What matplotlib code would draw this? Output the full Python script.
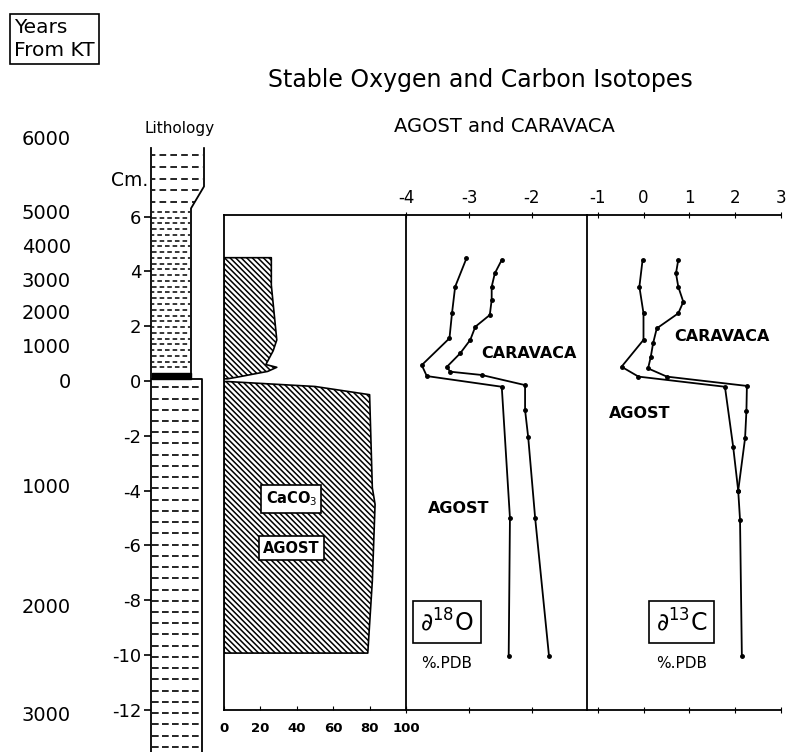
import numpy as np
import matplotlib
matplotlib.use('Agg')
import matplotlib.pyplot as plt

# years from KT boundary, placed against the depth scale (cm)
years_depth = [8.9, 6.2, 4.93, 3.72, 2.52, 1.31, 0.0, -3.83, -8.2, -12.15]
years_label = ['6000', '5000', '4000', '3000', '2000', '1000', '0', '1000', '2000', '3000']

depth_ticks = [-12, -10, -8, -6, -4, -2, 0, 2, 4, 6]

# CaCO3 (%) for AGOST, above and below the boundary clay
caco3_up_depth = [4.5, 3.5, 1.5, 1.1, 0.6, 0.5, 0.35, 0.15, 0.08]
caco3_up_pct = [26, 26, 29, 27, 23, 29, 24, 8, 2]
caco3_low_depth = [-0.02, -0.2, -0.5, -3.9, -4.5, -7.3, -9.93]
caco3_low_pct = [2, 50, 80, 81.5, 83, 81.5, 79]

# delta 18O (per mil PDB)
o18_agost_depth = [4.48, 3.44, 2.47, 1.56, 0.58, 0.18, -0.21, -5.0, -10.04]
o18_agost = [-3.04, -3.22, -3.27, -3.31, -3.75, -3.67, -2.48, -2.35, -2.37]
o18_carav_depth = [4.42, 3.93, 3.44, 2.96, 2.41, 1.98, 1.50, 1.01, 0.52, 0.34, 0.22,
                   -0.15, -1.06, -2.06, -5.0, -10.04]
o18_carav = [-2.48, -2.59, -2.64, -2.64, -2.67, -2.90, -2.98, -3.14, -3.35, -3.30, -2.80,
             -2.11, -2.11, -2.06, -1.95, -1.73]

# delta 13C (per mil PDB)
c13_agost_depth = [4.42, 3.44, 2.47, 1.50, 0.52, 0.16, -0.21, -2.40, -4.0, -5.07, -10.04]
c13_agost = [-0.02, -0.09, 0.0, 0.0, -0.48, -0.11, 1.78, 1.96, 2.07, 2.11, 2.15]
c13_carav_depth = [4.42, 3.93, 3.44, 2.89, 2.47, 1.92, 1.38, 0.89, 0.46, 0.16, -0.18,
                   -1.08, -2.09, -4.0]
c13_carav = [0.76, 0.71, 0.76, 0.87, 0.76, 0.29, 0.21, 0.16, 0.10, 0.51, 2.26,
             2.25, 2.22, 2.07]

W, H = 791, 752
Y0, S = 381.0, 27.4   # pixel row of depth 0, pixels per cm

plt.rcParams['font.family'] = 'DejaVu Sans'
plt.rcParams['hatch.linewidth'] = 1.1
fig = plt.figure(figsize=(W / 100, H / 100), dpi=100)
fig.patch.set_facecolor('white')


def px_axes(x0, x1, ytop, ybot):
    ax = fig.add_axes([x0 / W, 1 - ybot / H, (x1 - x0) / W, (ybot - ytop) / H])
    ax.set_ylim((Y0 - ybot) / S, (Y0 - ytop) / S)
    ax.patch.set_alpha(0)
    return ax


def clean(ax):
    for s in ax.spines.values():
        s.set_visible(False)
    ax.set_xticks([])
    ax.set_yticks([])


# ---- years column
ax_y = px_axes(71, 72, 100, 752)
clean(ax_y)
ax_y.set_yticks(years_depth)
ax_y.set_yticklabels(years_label)
ax_y.tick_params(axis='y', length=0, pad=0, labelsize=14)

# ---- lithology column
ax_l = px_axes(151, 215, 100, 752)
clean(ax_l)
ax_l.set_xlim(151, 215)
ax_l.spines['left'].set_visible(True)
ax_l.spines['left'].set_bounds(-13.6, 8.5)
ax_l.spines['left'].set_linewidth(1.3)
ax_l.set_yticks(depth_ticks)
ax_l.set_yticklabels([str(t) for t in depth_ticks])
ax_l.tick_params(axis='y', direction='out', length=5, width=1.2, pad=2, labelsize=13)

lk = dict(color='black', lw=1.3)
ax_l.plot([151, 202, 202], [0.07, 0.07, -13.6], **lk)
ax_l.plot([191, 191, 204, 204], [0.07, 6.3, 7.1, 8.5], **lk)
ax_l.fill_between([152, 191], 0.07, 0.3, color='black')
for d in np.arange(-13.35, 0, 0.41):
    ax_l.hlines(d, 152, 201, colors='black', lw=1.2, linestyles=(0, (4, 2)))
for i, d in enumerate(np.arange(0.5, 6.3, 0.21)):
    ax_l.hlines(d, 152, 190, colors='black', lw=1.1, linestyles=(1.5 * (i % 2), (3, 2)))
for d in np.arange(6.55, 8.5, 0.42):
    ax_l.hlines(d, 152, np.interp(d, [6.3, 7.1], [191, 203]), colors='black', lw=1.2,
                linestyles=(2, (4, 2.5)))

# ---- CaCO3 panel
ax_ca = px_axes(224, 406, 215, 710)
ax_ca.set_xlim(0, 100)
ax_ca.fill_betweenx(caco3_up_depth, 0, caco3_up_pct, facecolor='white', edgecolor='black',
                    hatch='\\' * 6, lw=1.2)
ax_ca.fill_betweenx(caco3_low_depth, 0, caco3_low_pct, facecolor='white', edgecolor='black',
                    hatch='\\' * 6, lw=1.2)
ax_ca.spines['right'].set_visible(False)
ax_ca.set_yticks([])
ax_ca.set_xticks([0, 20, 40, 60, 80, 100])
ax_ca.tick_params(axis='x', direction='in', length=3, pad=9, labelsize=9.5)
for lab in ax_ca.get_xticklabels():
    lab.set_fontweight('bold')
box = dict(boxstyle='square,pad=0.3', fc='white', ec='black', lw=1.2)
ax_ca.text(37, -4.3, 'CaCO$_3$', ha='center', va='center', fontsize=10.5, fontweight='bold', bbox=box)
ax_ca.text(37, -6.1, 'AGOST', ha='center', va='center', fontsize=10.5, fontweight='bold', bbox=box)

# ---- isotope panels
ax_o = px_axes(406, 587, 215, 710)
ax_o.set_xlim(-4, -4 + 181 / 63)
ax_c = px_axes(587, 781, 215, 710)
ax_c.set_xlim((587 - 643.5) / 45.75, (781 - 643.5) / 45.75)

ln = dict(color='black', lw=1.3, marker='o', ms=2.5)
ax_o.plot(o18_agost, o18_agost_depth, **ln)
ax_o.plot(o18_carav, o18_carav_depth, **ln)
ax_c.plot(c13_agost, c13_agost_depth, **ln)
ax_c.plot(c13_carav, c13_carav_depth, **ln)

for ax, ticks in ((ax_o, [-4, -3, -2]), (ax_c, [-1, 0, 1, 2, 3])):
    ax.spines['right'].set_visible(False)
    ax.set_yticks([])
    ax.set_xticks(ticks)
    ax.set_xticklabels([str(t) for t in ticks])
    ax.tick_params(axis='x', which='both', top=True, bottom=True, labeltop=True,
                   labelbottom=False, direction='inout', length=5, pad=3, labelsize=12)

for ax in (ax_ca, ax_o, ax_c):
    for s in ax.spines.values():
        s.set_linewidth(1.3)

bold = dict(ha='center', va='center', fontsize=11.5, fontweight='bold')
ax_o.text(-2.05, 1.02, 'CARAVACA', **bold)
ax_o.text(-3.16, -4.64, 'AGOST', **bold)
ax_c.text(1.72, 1.61, 'CARAVACA', **bold)
ax_c.text(-0.08, -1.17, 'AGOST', **bold)
ax_o.text(-3.35, -8.8, r'$\partial^{18}$O', ha='center', va='center', fontsize=17, bbox=box)
ax_o.text(-3.35, -10.3, '%.PDB', ha='center', va='center', fontsize=11)
ax_c.text(0.83, -8.8, r'$\partial^{13}$C', ha='center', va='center', fontsize=17, bbox=box)
ax_c.text(0.83, -10.3, '%.PDB', ha='center', va='center', fontsize=11)

# ---- titles
fig.text(480 / W, 1 - 80 / H, 'Stable Oxygen and Carbon Isotopes', ha='center', va='center',
         fontsize=17)
fig.text(504 / W, 1 - 126 / H, 'AGOST and CARAVACA', ha='center', va='center', fontsize=14)
fig.text(180 / W, 1 - 128 / H, 'Lithology', ha='center', va='center', fontsize=11)
fig.text(130 / W, 1 - 180 / H, 'Cm.', ha='center', va='center', fontsize=13.5)
fig.text(14 / W, 1 - 18 / H, 'Years\nFrom KT', ha='left', va='top', fontsize=14.5,
         linespacing=1.25, bbox=dict(boxstyle='square,pad=0.2', fc='white', ec='black', lw=1.2))

fig.savefig('out.png', dpi=100, facecolor='white')
